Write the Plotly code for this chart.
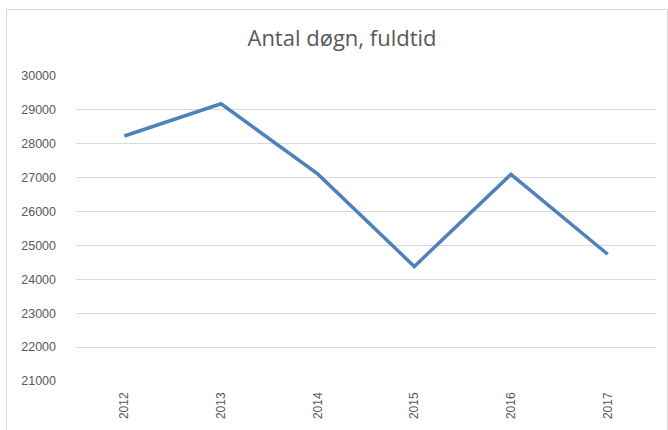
import plotly.graph_objects as go

years = ["2012", "2013", "2014", "2015", "2016", "2017"]
values = [28230, 29180, 27110, 24380, 27100, 24740]
y_ticks = [21000, 22000, 23000, 24000, 25000, 26000, 27000, 28000, 29000, 30000]

fig = go.Figure()
fig.add_trace(go.Scatter(
    x=years, y=values, mode="lines",
    line=dict(color="#4F81BD", width=3.5),
    hoverinfo="x+y",
))

fig.update_layout(
    width=668, height=430,
    margin=dict(l=76, r=12, t=76, b=49),
    paper_bgcolor="white", plot_bgcolor="white",
    showlegend=False,
    title=dict(
        text="Antal døgn, fuldtid",
        x=342 / 668, xanchor="center",
        y=1 - 38 / 430, yanchor="middle",
        font=dict(family="Open Sans", size=22, color="#595959"),
    ),
    font=dict(family="Liberation Sans", color="#595959"),
)
fig.update_xaxes(
    type="category",
    range=[-0.5, 5.5],
    tickangle=-90,
    tickfont=dict(family="Liberation Sans", size=12, color="#595959"),
    showgrid=False, showline=False, zeroline=False,
    ticks="", ticklabelstandoff=8,
)
fig.update_yaxes(
    range=[21000, 30000],
    tickvals=y_ticks,
    ticktext=[str(v) for v in y_ticks],
    tickfont=dict(family="Liberation Sans", size=12.5, color="#595959"),
    showgrid=True, gridcolor="#D9D9D9", gridwidth=1,
    zeroline=False, showline=False, ticks="",
    ticklabelstandoff=19,
)
fig.add_shape(
    type="rect", xref="paper", yref="paper",
    x0=(6.5 - 76) / 580, x1=(667.5 - 76) / 580,
    y0=(381 - 440) / 305, y1=1 + (76 - 9.5) / 305,
    line=dict(color="#D9D9D9", width=1), fillcolor="rgba(0,0,0,0)",
    layer="below",
)

fig.write_html(
    "out.html",
    config={"displayModeBar": False},
    post_script="document.body.style.margin='0';",
)
